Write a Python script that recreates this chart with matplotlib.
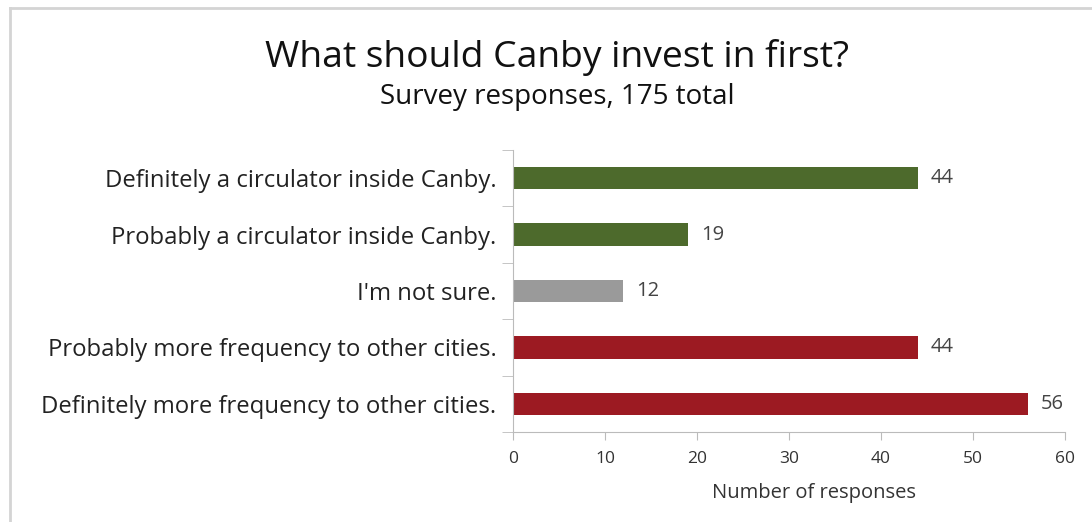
import numpy as np
import matplotlib.pyplot as plt
from matplotlib.lines import Line2D

# survey answers, top to bottom
answers = [
    "Definitely a circulator inside Canby.",
    "Probably a circulator inside Canby.",
    "I'm not sure.",
    "Probably more frequency to other cities.",
    "Definitely more frequency to other cities.",
]
responses = [44, 19, 12, 44, 56]
bar_colors = ["#4d6a2c", "#4d6a2c", "#9a9a9a", "#9c1a22", "#9c1a22"]
xticks = [0, 10, 20, 30, 40, 50, 60]

plt.rcParams['font.family'] = ['Open Sans', 'DejaVu Sans']

fig = plt.figure(figsize=(10.92, 5.22), dpi=100)
# light frame along the top and left edges
fig.lines.append(Line2D([10 / 1092, 1.0], [1 - 8 / 522] * 2, transform=fig.transFigure,
                        color="#d4d4d4", linewidth=2))
fig.lines.append(Line2D([10 / 1092] * 2, [0.0, 1 - 8 / 522], transform=fig.transFigure,
                        color="#d4d4d4", linewidth=2))

ax = fig.add_axes([513 / 1092, 1 - 432 / 522, 552 / 1092, 282 / 522])
ypos = np.arange(len(answers))
ax.barh(ypos, responses, height=0.4, color=bar_colors)
ax.set_ylim(len(answers) - 0.5, -0.5)
ax.set_xlim(0, 60)

for y, v in zip(ypos, responses):
    ax.text(v + 1.4, y, str(v), va="center", ha="left", fontsize=14.5, color="#444444")

ax.set_yticks(ypos)
ax.set_yticklabels(answers, fontsize=17.2, color="#222222")
ax.tick_params(axis="y", which="major", length=0, pad=12)
ax.set_yticks(np.arange(-0.5, len(answers)), minor=True)
ax.tick_params(axis="y", which="minor", length=8, color="#bbbbbb")

ax.set_xticks(xticks)
ax.set_xticklabels([str(t) for t in xticks], fontsize=12.5, color="#333333")
ax.tick_params(axis="x", length=6, color="#bbbbbb", pad=8)

for s in ["top", "right"]:
    ax.spines[s].set_visible(False)
for s in ["left", "bottom"]:
    ax.spines[s].set_color("#bbbbbb")

fig.text(0.745, 1 - 493 / 522, "Number of responses", ha="center", va="center",
         fontsize=14.5, color="#333333")
fig.text(0.51, 1 - 58 / 522, "What should Canby invest in first?", ha="center",
         va="center", fontsize=26.8, color="#111111")
fig.text(0.51, 1 - 97 / 522, "Survey responses, 175 total", ha="center",
         va="center", fontsize=20, color="#111111")

fig.savefig("out.png", dpi=100)
